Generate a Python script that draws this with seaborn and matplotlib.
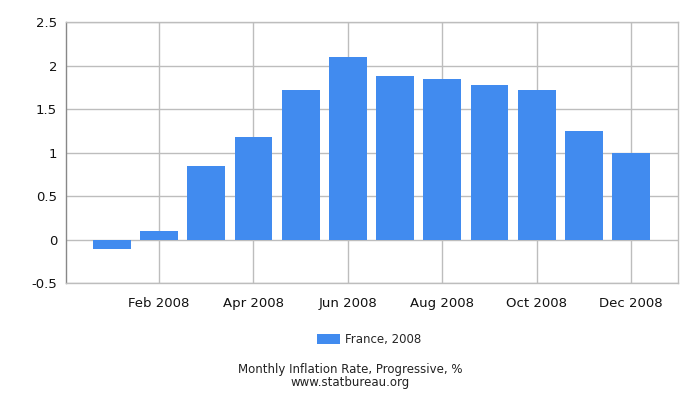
import matplotlib
matplotlib.use("Agg")
import matplotlib.pyplot as plt
import pandas as pd
import seaborn as sns

months = ["Jan", "Feb", "Mar", "Apr", "May", "Jun",
          "Jul", "Aug", "Sep", "Oct", "Nov", "Dec"]
rates = [-0.11, 0.10, 0.85, 1.18, 1.72, 2.10,
         1.88, 1.85, 1.78, 1.72, 1.25, 1.00]
tick_labels = ["Feb 2008", "Apr 2008", "Jun 2008",
               "Aug 2008", "Oct 2008", "Dec 2008"]
y_ticks = [-0.5, 0, 0.5, 1, 1.5, 2, 2.5]
y_labels = ["-0.5", "0", "0.5", "1", "1.5", "2", "2.5"]
series_name = "France, 2008"

df = pd.DataFrame({"Month": months, "Rate": rates, "Series": series_name})

sns.set_style("white")
plt.rcParams["font.family"] = ["DejaVu Sans"]

fig = plt.figure(figsize=(7, 4), dpi=100)
ax = fig.add_axes([0.0936, 0.292, 0.8754, 0.652])

sns.barplot(data=df, x="Month", y="Rate", hue="Series", order=months,
            palette=["#418bef"], width=0.8, saturation=1, ax=ax, zorder=2,
            edgecolor="none", linewidth=0)

ax.set_xlim(-0.98, 12.0)
ax.set_ylim(-0.5, 2.5)
ax.set_xticks([1, 3, 5, 7, 9, 11])
ax.set_xticklabels(tick_labels)
ax.set_xticks([-0.98], minor=True)
ax.set_yticks(y_ticks)
ax.set_yticklabels(y_labels)
ax.set_xlabel("")
ax.set_ylabel("")

ax.grid(True, color="#bdbdbd", linewidth=1, zorder=0)
ax.set_axisbelow(True)
for side in ["top", "right", "bottom"]:
    ax.spines[side].set_color("#bdbdbd")
ax.spines["left"].set_color("#888888")
for s in ax.spines.values():
    s.set_linewidth(1)

ax.tick_params(axis="both", which="both", length=4, width=1, color="#222222",
               labelsize=9.5, labelcolor="#111111", direction="out")
ax.tick_params(axis="x", pad=6)
ax.tick_params(axis="y", pad=2)

ax.legend(loc="center", bbox_to_anchor=(0.5 - 0.005, -0.215), frameon=False,
          fontsize=8.5, handlelength=2.0, handleheight=0.9, handletextpad=0.4)

# title and source as one two-line text
fig.text(0.5, 0.06, "Monthly Inflation Rate, Progressive, %\nwww.statbureau.org",
         ha="center", va="center", fontsize=8.5, color="#222222",
         linespacing=0.95)

fig.savefig("out.png", dpi=100)
